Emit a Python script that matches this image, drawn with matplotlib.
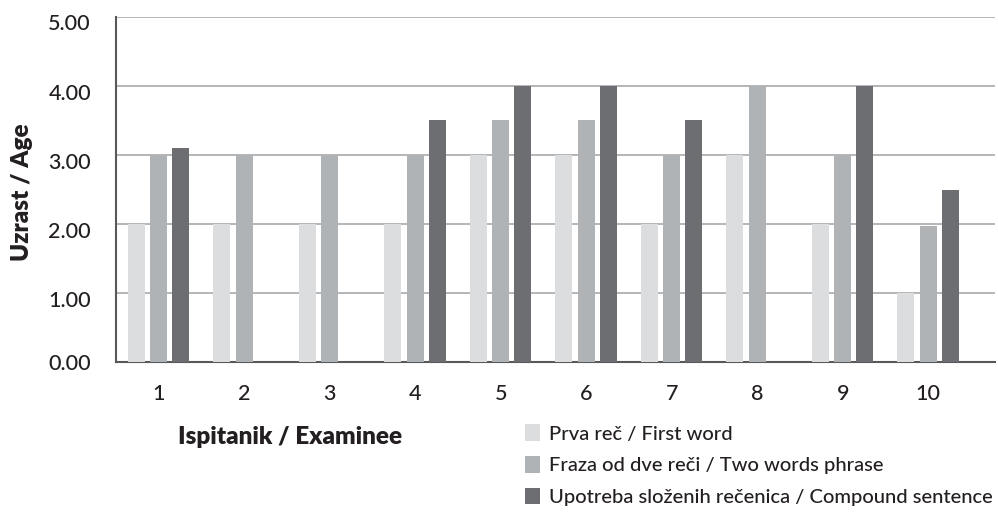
import matplotlib
matplotlib.use("Agg")
import matplotlib.pyplot as plt
import matplotlib.transforms as mtrans
import numpy as np
from matplotlib.patches import Patch

examinees = ["1", "2", "3", "4", "5", "6", "7", "8", "9", "10"]
first_word = [2, 2, 2, 2, 3, 3, 2, 3, 2, 1]
two_words = [3, 3, 3, 3, 3.5, 3.5, 3, 4, 3, 1.97]
compound = [3.1, 0, 0, 3.5, 4, 4, 3.5, 0, 4, 2.5]
series_names = ["Prva reč / First word",
                "Fraza od dve reči / Two words phrase",
                "Upotreba složenih rečenica / Compound sentence"]
colors = ["#dcdddf", "#b0b3b6", "#6d6e71"]
yticks = [0, 1, 2, 3, 4, 5]

plt.rcParams['font.family'] = ['Lato', 'DejaVu Sans']

fig = plt.figure(figsize=(9.98, 5.12), dpi=100)
ax = fig.add_axes([0.1162, 0.2925, 0.8808, 0.6745])

x = np.arange(1, len(examinees) + 1)
w = 0.2
offs = [-0.265, 0.0, 0.255]
for vals, off, c in zip([first_word, two_words, compound], offs, colors):
    ax.bar(x + off, vals, width=w, color=c, zorder=3)

ax.set_xlim(0.5, 10.78)
ax.set_ylim(0, 5)
ax.set_yticks(yticks)
ax.set_yticklabels([f"{v:.2f}" for v in yticks], fontsize=15.5, color="#231f20",
                   fontweight="medium")
ax.set_xticks(x)
ax.set_xticklabels(examinees, fontsize=15.5, color="#231f20", fontweight="medium")
ax.tick_params(axis='both', length=0)
ax.tick_params(axis='y', pad=18)
ax.tick_params(axis='x', pad=16)
ax.yaxis.grid(True, color="#a7a9ac", linewidth=1.2, zorder=0)
ax.set_axisbelow(True)
for s in ["top", "right"]:
    ax.spines[s].set_visible(False)
for s in ["left", "bottom"]:
    ax.spines[s].set_color("#58595b")
    ax.spines[s].set_linewidth(1.5)

# shift y tick labels (except 0.00) slightly down, like the reference
shift = mtrans.ScaledTranslation(0, -4 / 72, fig.dpi_scale_trans)
for i, lbl in enumerate(ax.get_yticklabels()):
    if i > 0:
        lbl.set_transform(lbl.get_transform() + shift)

fig.text(0.022, 0.625, "Uzrast / Age", rotation=90, fontsize=17.5, fontweight="heavy",
         ha="center", va="center", color="#231f20")
fig.text(0.291, 0.146, "Ispitanik / Examinee", fontsize=17.5, fontweight="heavy",
         ha="center", va="center", color="#231f20")

handles = [Patch(facecolor=c, edgecolor="none") for c in colors]
leg = fig.legend(handles, series_names, loc="upper left", bbox_to_anchor=(0.526, 0.171),
                 frameon=False, fontsize=14.5, handlelength=0.75, handleheight=0.9,
                 handletextpad=0.45, labelspacing=0.66, borderaxespad=0, borderpad=0)
for t in leg.get_texts():
    t.set_color("#231f20")
    t.set_fontweight("medium")

fig.savefig("out.png", dpi=100)
